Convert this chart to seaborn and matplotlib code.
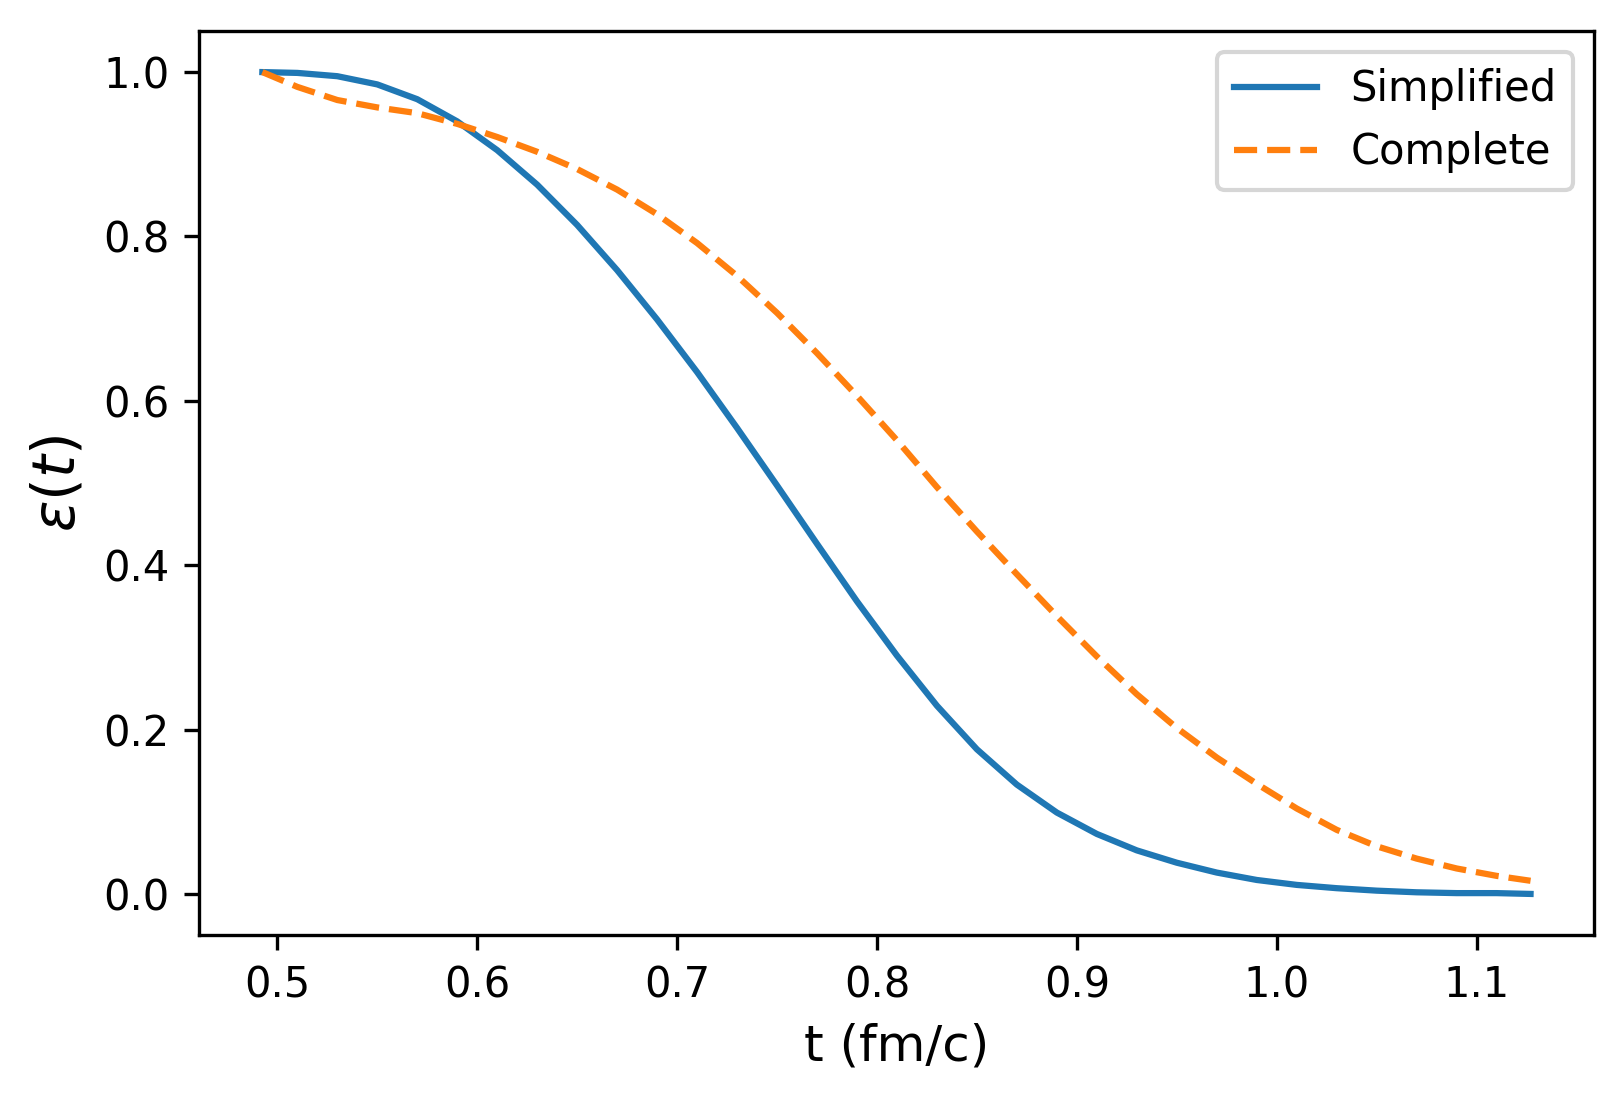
import matplotlib
matplotlib.use("Agg")
import matplotlib.pyplot as plt
import pandas as pd
import seaborn as sns

# values
t = [0.4925, 0.51, 0.53, 0.55, 0.57, 0.59, 0.61, 0.63, 0.65, 0.67, 0.69,
     0.71, 0.73, 0.75, 0.77, 0.79, 0.81, 0.83, 0.85, 0.87, 0.89, 0.91,
     0.93, 0.95, 0.97, 0.99, 1.01, 1.03, 1.05, 1.07, 1.09, 1.11, 1.127]

simplified = [1.000, 0.999, 0.995, 0.985, 0.967, 0.940, 0.905, 0.863, 0.814,
              0.759, 0.699, 0.635, 0.567, 0.497, 0.426, 0.356, 0.290, 0.229,
              0.176, 0.133, 0.099, 0.073, 0.053, 0.038, 0.026, 0.017, 0.011,
              0.007, 0.004, 0.002, 0.001, 0.001, 0.000]

complete = [1.000, 0.982, 0.966, 0.957, 0.950, 0.937, 0.921, 0.903, 0.882,
            0.857, 0.827, 0.792, 0.752, 0.707, 0.658, 0.606, 0.552, 0.495,
            0.441, 0.389, 0.338, 0.289, 0.243, 0.202, 0.166, 0.134, 0.104,
            0.078, 0.058, 0.043, 0.031, 0.022, 0.016]

df = pd.DataFrame({"t": t, "Simplified": simplified, "Complete": complete})

fig, ax = plt.subplots(figsize=(1624 / 300, 1099 / 300), dpi=300)
fig.subplots_adjust(left=0.1225, right=0.9815, top=0.9718, bottom=0.1492)

sns.lineplot(data=df, x="t", y="Simplified", ax=ax, color="C0",
             linestyle="-", label="Simplified")
sns.lineplot(data=df, x="t", y="Complete", ax=ax, color="C1",
             linestyle="--", label="Complete")

ax.set_xlabel("t (fm/c)", fontsize=12)
ax.set_ylabel(r"$\varepsilon(t)$", fontsize=14)
ax.legend(loc="upper right")

fig.savefig("out.png", dpi=300)
